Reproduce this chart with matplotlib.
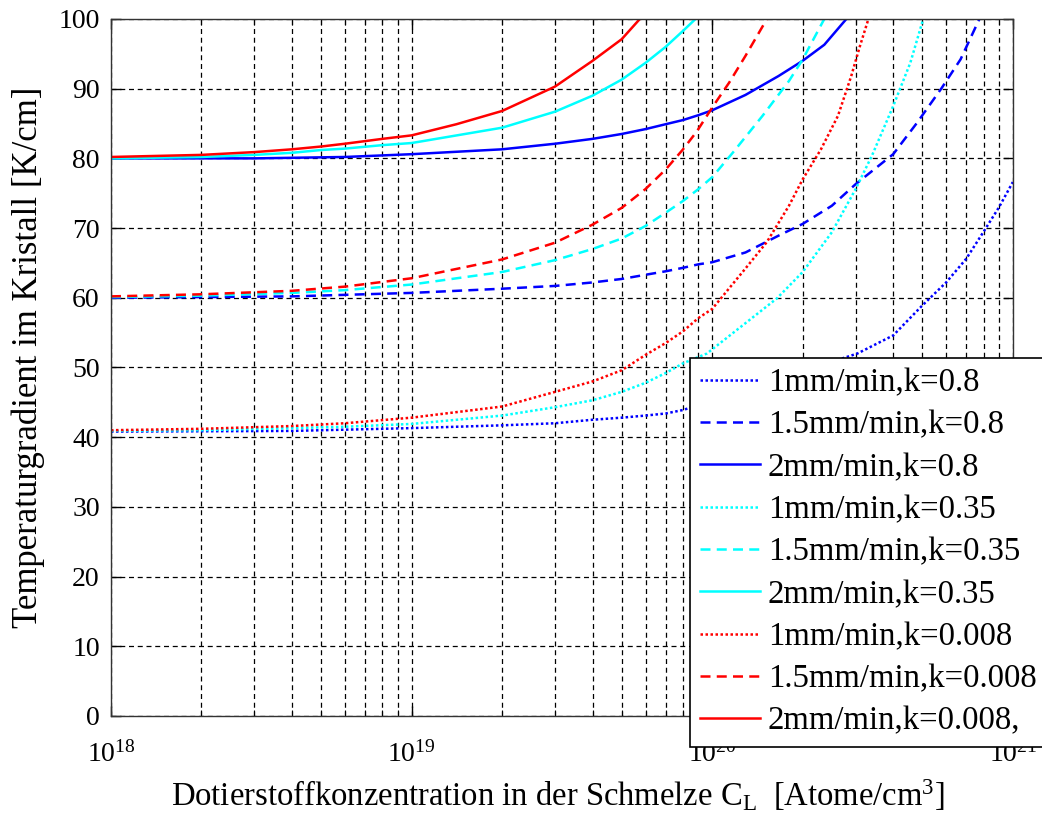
import matplotlib
matplotlib.use("Agg")
import matplotlib.pyplot as plt
from matplotlib.ticker import LogLocator, LogFormatterMathtext, MultipleLocator, NullFormatter

plt.rcParams['font.family'] = ['Liberation Serif', 'DejaVu Serif']
plt.rcParams['mathtext.fontset'] = 'custom'
plt.rcParams['mathtext.rm'] = 'Liberation Serif'
plt.rcParams['mathtext.it'] = 'Liberation Serif:italic'
plt.rcParams['mathtext.bf'] = 'Liberation Serif:bold'

# ---- data (concentration in Atome/cm^3, gradient in K/cm) ----
c_b1 = [1e18, 4e18, 1e19, 2e19, 3e19, 4e19, 5e19, 6e19, 7e19, 8e19,
        3.04e20, 4e20, 5e20, 6e20, 7e20, 8e20, 9e20, 1e21]
g_b1 = [40.8, 40.9, 41.3, 41.7, 42.0, 42.5, 42.8, 43.1, 43.4, 43.9,
        52.0, 54.6, 58.9, 62.2, 65.6, 69.5, 73.0, 76.6]

c_b15 = [1e18, 4e18, 1e19, 2e19, 3e19, 4e19, 5e19, 6e19, 7e19, 8e19, 9e19, 1e20,
         1.29e20, 1.66e20, 2e20, 2.5e20, 3e20, 4e20, 4.8e20, 5.8e20, 6.7e20, 7.8e20]
g_b15 = [60.0, 60.2, 60.7, 61.3, 61.7, 62.2, 62.7, 63.3, 63.8, 64.3, 64.8, 65.1,
         66.5, 68.9, 70.6, 73.2, 76.3, 80.6, 85.1, 90.1, 94.2, 100.3]

c_b2 = [1e18, 3e18, 6e18, 1e19, 2e19, 3e19, 4e19, 5e19, 6e19, 7e19, 8e19, 9e19, 1e20,
        1.29e20, 1.66e20, 2e20, 2.36e20, 2.82e20]
g_b2 = [80.0, 80.0, 80.2, 80.6, 81.3, 82.1, 82.8, 83.5, 84.2, 84.9, 85.5, 86.2, 86.9,
        89.1, 91.8, 94.0, 96.3, 100.2]

c_c1 = [1e18, 2e18, 4e18, 6e18, 1e19, 2e19, 3e19, 4e19, 5e19, 6e19, 7e19, 8e19, 9.6e19,
        1.64e20, 2e20, 2.5e20, 3e20, 3.4e20, 4e20, 4.56e20, 5.05e20]
g_c1 = [40.9, 41.0, 41.3, 41.5, 41.9, 43.1, 44.3, 45.3, 46.5, 47.8, 49.2, 50.6, 52.0,
        59.9, 63.7, 69.4, 75.6, 80.4, 87.5, 93.7, 100.2]

c_c15 = [1e18, 2e18, 4e18, 6e18, 1e19, 2e19, 3e19, 4e19, 5e19, 6e19, 7e19, 8e19, 9e19, 1e20,
         1.17e20, 1.47e20, 1.8e20, 2e20, 2.38e20]
g_c15 = [60.1, 60.3, 60.7, 61.1, 61.9, 63.7, 65.4, 67.0, 68.5, 70.3, 72.2, 73.9, 75.6, 77.3,
         80.8, 86.1, 91.1, 94.2, 100.3]

c_c2 = [1e18, 2e18, 3e18, 4e18, 5e18, 6e18, 8e18, 1e19, 2e19, 3e19, 4e19, 5e19, 6e19,
        7e19, 8e19, 8.9e19]
g_c2 = [80.0, 80.2, 80.5, 80.8, 81.2, 81.4, 81.9, 82.2, 84.4, 86.7, 89.0, 91.3, 93.7,
        96.0, 98.3, 100.2]

c_r1 = [1e18, 2e18, 4e18, 6e18, 1e19, 2e19, 3e19, 4e19, 5e19, 6e19, 7e19, 8e19, 9e19, 1e20,
        1.29e20, 1.52e20, 1.8e20, 2e20, 2.3e20, 2.62e20, 2.9e20, 3.1e20, 3.32e20]
g_r1 = [41.0, 41.2, 41.6, 42.0, 42.8, 44.4, 46.5, 48.0, 49.6, 51.8, 53.5, 55.2, 57.1, 58.4,
        64.2, 68.0, 73.2, 77.0, 81.3, 86.1, 91.8, 96.1, 100.2]

c_r15 = [1e18, 2e18, 4e18, 6e18, 1e19, 2e19, 3e19, 4e19, 5e19, 6e19, 7e19, 8e19, 8.9e19,
         1e20, 1.14e20, 1.29e20, 1.53e20]
g_r15 = [60.2, 60.5, 61.0, 61.6, 62.8, 65.5, 67.9, 70.5, 72.9, 75.6, 78.4, 81.3, 83.9,
         87.3, 90.9, 94.7, 100.2]

c_r2 = [1e18, 2e18, 3e18, 4e18, 5e18, 6e18, 8e18, 1e19, 1.41e19, 2e19, 3e19, 4e19, 5e19, 5.8e19]
g_r2 = [80.2, 80.5, 80.9, 81.3, 81.7, 82.1, 82.8, 83.3, 84.9, 86.8, 90.3, 94.0, 97.1, 100.2]

labels = ["1mm/min,k=0.8", "1.5mm/min,k=0.8", "2mm/min,k=0.8",
          "1mm/min,k=0.35", "1.5mm/min,k=0.35", "2mm/min,k=0.35",
          "1mm/min,k=0.008", "1.5mm/min,k=0.008", "2mm/min,k=0.008,"]

series = [(c_b1, g_b1), (c_b15, g_b15), (c_b2, g_b2),
          (c_c1, g_c1), (c_c15, g_c15), (c_c2, g_c2),
          (c_r1, g_r1), (c_r15, g_r15), (c_r2, g_r2)]

colors = ['#0000ff'] * 3 + ['#00ffff'] * 3 + ['#ff0000'] * 3
dotted = (0, (1.0, 1.0))
dashed = (0, (4.0, 2.5))
styles = [dotted, dashed, '-'] * 3

fig = plt.figure(figsize=(10.42, 8.21), dpi=100)
ax = fig.add_axes([0.1065, 0.1279, 0.8655, 0.849])

for (c, g), col, ls, lab in zip(series, colors, styles, labels):
    ax.plot(c, g, color=col, linestyle=ls, linewidth=1.8, label=lab)

ax.set_xscale('log')
ax.set_xlim(1e18, 1e21)
ax.set_ylim(0, 100)
ax.yaxis.set_major_locator(MultipleLocator(10))
ax.xaxis.set_major_locator(LogLocator(base=10, numticks=10))
ax.xaxis.set_minor_locator(LogLocator(base=10, subs=range(2, 10), numticks=20))
ax.xaxis.set_major_formatter(LogFormatterMathtext())
ax.xaxis.set_minor_formatter(NullFormatter())

gridls = (0, (4, 3))
ax.grid(True, which='major', color='black', linestyle=gridls, linewidth=0.9)
ax.grid(True, which='minor', axis='x', color='black', linestyle=gridls, linewidth=0.9)
ax.set_axisbelow(True)

ax.tick_params(which='both', direction='in', top=True, right=True, labelsize=20)
ax.tick_params(axis='x', pad=18)
ax.tick_params(axis='y', pad=8)
ax.tick_params(which='major', length=7, width=1)
ax.tick_params(which='minor', length=4, width=0.8)
for s in ax.spines.values():
    s.set_linewidth(1.0)
    s.set_color('#333333')

ax.set_ylabel("Temperaturgradient im Kristall [K/cm]", fontsize=25)
ax.yaxis.set_label_coords(-0.073, 0.515)
ax.set_xlabel(r"Dotierstoffkonzentration in der Schmelze C$_{\mathrm{L}}$  [Atome/cm$^{3}$]",
              fontsize=23.5)
ax.xaxis.set_label_coords(0.4956, -0.088)

leg = ax.legend(loc='upper left', bbox_to_anchor=(0.642, 0.5136), fontsize=23.6,
                frameon=True, fancybox=False, framealpha=1, edgecolor='black',
                handlelength=1.85, handletextpad=0.22, labelspacing=0.36,
                borderpad=0.3, borderaxespad=0)
leg.get_frame().set_linewidth(1.2)
leg.set_zorder(10)

fig.savefig("out.png", dpi=100)
